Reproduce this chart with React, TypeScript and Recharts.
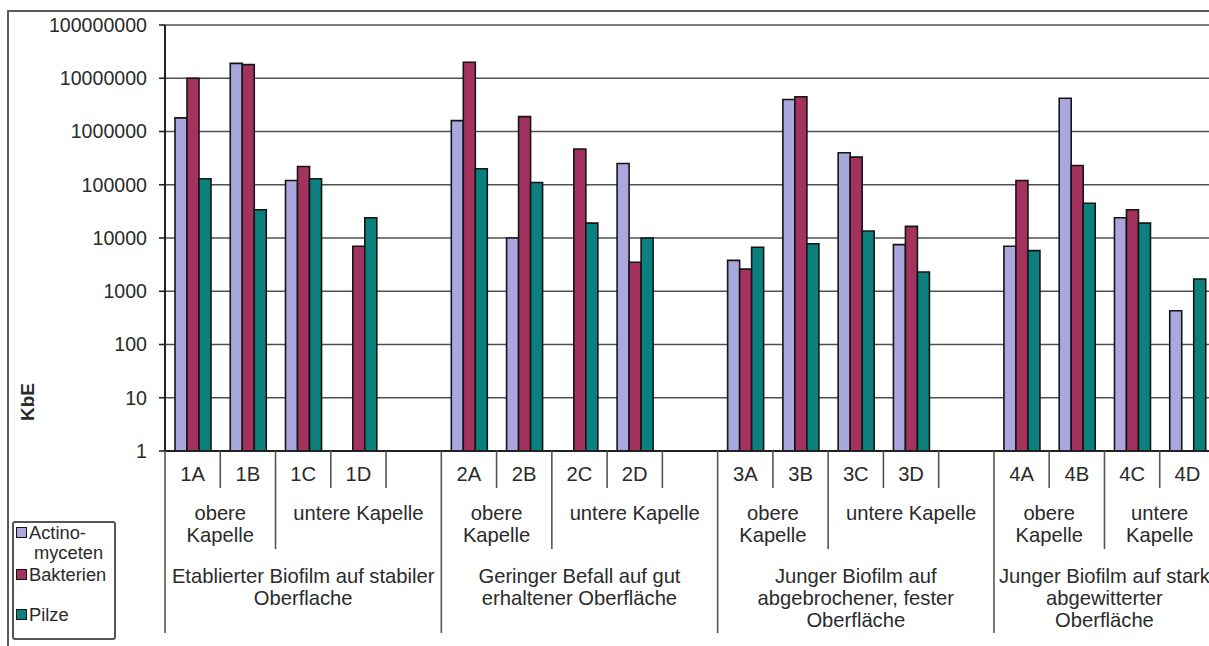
import { BarChart, Bar, XAxis, YAxis, CartesianGrid, Legend, Label } from 'recharts';

const categories = ['1A', '1B', '1C', '1D', '', '2A', '2B', '2C', '2D', '', '3A', '3B', '3C', '3D', '', '4A', '4B', '4C', '4D'];

const actinomyceten = [1800000, 19000000, 120000, null, null, 1600000, 10000, null, 250000, null, 3800, 4000000, 400000, 7500, null, 7000, 4200000, 24000, 430];
const bakterien = [10000000, 18000000, 220000, 7000, null, 20000000, 1900000, 470000, 3500, null, 2600, 4500000, 330000, 16500, null, 120000, 230000, 34000, null];
const pilze = [130000, 34000, 130000, 24000, null, 200000, 110000, 19000, 10000, null, 6700, 7800, 13500, 2300, null, 5800, 45000, 19000, 1700];

const yTicks = [1, 10, 100, 1000, 10000, 100000, 1000000, 10000000, 100000000];

// second row: Kapelle
const subGroups = [
  { start: 0, span: 2, lines: ['obere', 'Kapelle'] },
  { start: 2, span: 3, lines: ['untere Kapelle'] },
  { start: 5, span: 2, lines: ['obere', 'Kapelle'] },
  { start: 7, span: 3, lines: ['untere Kapelle'] },
  { start: 10, span: 2, lines: ['obere', 'Kapelle'] },
  { start: 12, span: 3, lines: ['untere Kapelle'] },
  { start: 15, span: 2, lines: ['obere', 'Kapelle'] },
  { start: 17, span: 2, lines: ['untere', 'Kapelle'] },
];

// third row: Oberflächenzustand
const groups = [
  { start: 0, span: 5, lines: ['Etablierter Biofilm auf stabiler', 'Oberflache'] },
  { start: 5, span: 5, lines: ['Geringer Befall auf gut', 'erhaltener Oberfläche'] },
  { start: 10, span: 5, lines: ['Junger Biofilm auf', 'abgebrochener, fester', 'Oberfläche'] },
  { start: 15, span: 4, lines: ['Junger Biofilm auf stark', 'abgewitterter', 'Oberfläche'] },
];

const series = [
  { key: 'actino', name: 'Actino-myceten', values: actinomyceten, color: '#aaa7de' },
  { key: 'bakt', name: 'Bakterien', values: bakterien, color: '#a3325f' },
  { key: 'pilze', name: 'Pilze', values: pilze, color: '#0b807c' },
];

const data = categories.map((label, i) => ({
  key: i,
  label,
  actino: actinomyceten[i],
  bakt: bakterien[i],
  pilze: pilze[i],
}));

const FONT = '"Liberation Sans", Arial, sans-serif';
const TEXT = '#2a2a2a';
const CHART_W = 1240;
const CHART_H = 646;
const MARGIN = { top: 25, right: 25, left: 0, bottom: 0 };
const Y_AXIS_W = 165;
const X_AXIS_H = 195;
const BAND = (CHART_W - MARGIN.left - MARGIN.right - Y_AXIS_W) / categories.length;

function sepLength(i: number) {
  if (i === categories.length || groups.some((g) => g.start === i)) return 182;
  if (subGroups.some((g) => g.start === i)) return 98;
  return 37;
}

function CategoryTick(props: any) {
  const { x, y, payload } = props;
  const i = Number(payload.value);
  const left = x - BAND / 2;
  const sub = subGroups.find((g) => g.start === i);
  const grp = groups.find((g) => g.start === i);
  const txt = { fontFamily: FONT, fontSize: 20.2, fill: TEXT, textAnchor: 'middle' as const, dominantBaseline: 'central' as const };
  return (
    <g>
      <line x1={left} x2={left} y1={y} y2={y + sepLength(i)} stroke="#555" strokeWidth={1.6} />
      {i === categories.length - 1 && (
        <line x1={left + BAND} x2={left + BAND} y1={y} y2={y + sepLength(i + 1)} stroke="#555" strokeWidth={1.6} />
      )}
      <text x={x} y={y + 23} {...txt}>{categories[i]}</text>
      {sub &&
        sub.lines.map((t, k) => (
          <text key={k} x={left + (sub.span * BAND) / 2} y={y + 62 + k * 22} {...txt}>{t}</text>
        ))}
      {grp &&
        grp.lines.map((t, k) => (
          <text key={k} x={left + (grp.span * BAND) / 2} y={y + 125 + k * 22} {...txt}>{t}</text>
        ))}
    </g>
  );
}

const legendRowH = [42, 40, 34];

function LegendBox({ payload }: any) {
  return (
    <div
      style={{
        width: 104,
        height: 119,
        border: '2px solid #555',
        borderRadius: 3,
        boxSizing: 'border-box',
        fontFamily: FONT,
        fontSize: 18.3,
        color: TEXT,
        lineHeight: '20px',
        paddingLeft: 2,
      }}
    >
      {(payload || []).map((p: any, i: number) => {
        const parts = String(p.value).includes('-') ? [String(p.value).split('-')[0] + '-', String(p.value).split('-')[1]] : [p.value];
        return (
          <div key={i} style={{ display: 'flex', height: legendRowH[i] }}>
            <span
              style={{
                display: 'inline-block',
                width: 9,
                height: 9,
                background: p.color,
                border: '1.5px solid #111',
                marginTop: 4,
                marginRight: 2,
                flex: 'none',
              }}
            />
            <div>
              {parts.map((t: string, k: number) => (
                <div key={k} style={{ paddingLeft: k > 0 ? 5 : 0 }}>{t}</div>
              ))}
            </div>
          </div>
        );
      })}
    </div>
  );
}

function KbeLabel() {
  return (
    <text x={27} y={402} transform="rotate(-90 27 402)" textAnchor="middle" dominantBaseline="central" fontFamily={FONT} fontSize={19} fontWeight="bold" fill={TEXT}>
      KbE
    </text>
  );
}

export default function App() {
  return (
    <div style={{ position: 'fixed', left: 0, top: 0, width: 1209, height: 646, overflow: 'hidden', background: '#fff' }}>
      <div style={{ position: 'absolute', left: 7, top: 10, width: 1400, height: 800, border: '2px solid #5a5a5a' }} />
      <div style={{ position: 'absolute', left: 0, top: 0 }}>
        <BarChart width={CHART_W} height={CHART_H} data={data} margin={MARGIN} barCategoryGap={10} barGap={0}>
          <CartesianGrid vertical={false} stroke="#505050" strokeWidth={1.7} />
          <XAxis
            dataKey="key"
            type="category"
            height={X_AXIS_H}
            interval={0}
            tickLine={false}
            tickSize={0}
            tickMargin={0}
            axisLine={{ stroke: '#222', strokeWidth: 2 }}
            tick={<CategoryTick />}
          />
          <YAxis
            scale="log"
            domain={[1, 100000000]}
            ticks={yTicks}
            allowDataOverflow
            width={Y_AXIS_W}
            tickSize={6}
            tickMargin={12}
            tickFormatter={(v: number) => String(v)}
            axisLine={{ stroke: '#222', strokeWidth: 2 }}
            tickLine={{ stroke: '#222', strokeWidth: 1.6 }}
            tick={{ fontFamily: FONT, fontSize: 19.6, fill: TEXT }}
          >
            <Label content={<KbeLabel />} />
          </YAxis>
          <Legend
            layout="horizontal"
            verticalAlign="middle"
            align="center"
            width={104}
            height={119}
            wrapperStyle={{ left: 12, top: 521, width: 104, height: 119 }}
            content={<LegendBox />}
          />
          {series.map((s) => (
            <Bar key={s.key} dataKey={s.key} name={s.name} fill={s.color} stroke="#151515" strokeWidth={1.6} isAnimationActive={false} />
          ))}
        </BarChart>
      </div>
    </div>
  );
}
